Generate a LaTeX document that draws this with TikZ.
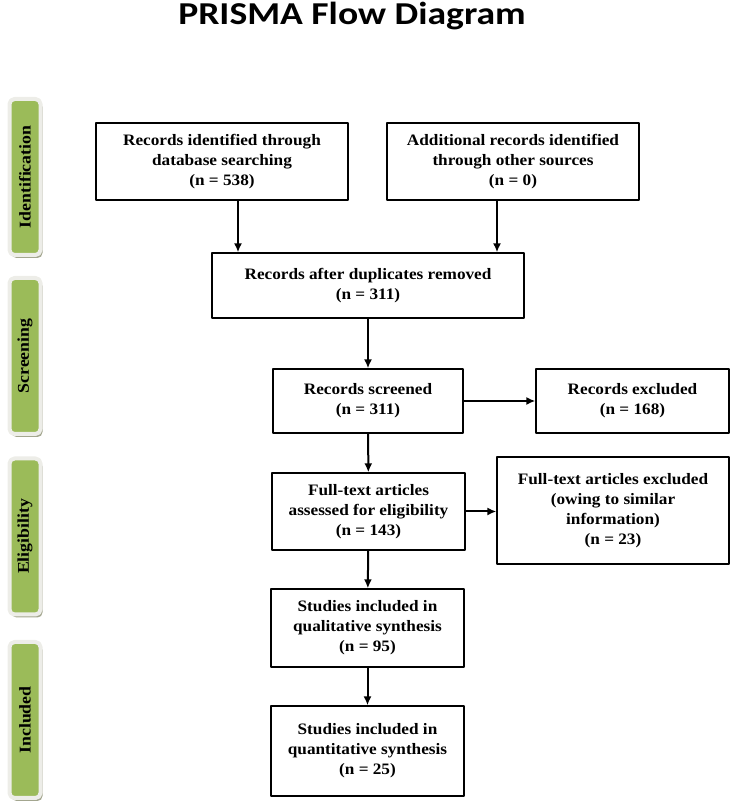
\documentclass[tikz,border=0pt]{standalone}
\usepackage{fontspec}
\setmainfont{Liberation Serif}[FakeStretch=1.08]
\newfontfamily\titlefont{Carlito}[FakeStretch=1.18]
\usetikzlibrary{shadows,arrows.meta}
\definecolor{stagegreen}{HTML}{9BBB59}
\definecolor{stageedge}{HTML}{EDEDE8}
\definecolor{stageshadow}{HTML}{A3A68F}
\begin{document}
\begin{tikzpicture}[>={Latex[length=9bp,width=8bp]},line join=bevel,
  box/.style={draw,line width=1.3bp,align=center,inner sep=0pt,
    font=\bfseries\fontsize{16}{20}\selectfont},
  flow/.style={->,line width=2bp},
  stage/.style={rotate=90,fill=stagegreen,draw=stageedge,line width=4bp,
    rounded corners=5bp,minimum width=156bp,minimum height=31bp,inner sep=0pt,
    drop shadow={shadow xshift=2bp,shadow yshift=-3bp,fill=stageshadow,opacity=1},
    font=\bfseries\fontsize{16.5}{20}\selectfont},]
\useasboundingbox (0bp,0bp) rectangle (731bp,806bp);
%%
\node (title) at (352bp,790bp) [font=\titlefont\bfseries\fontsize{32}{36}\selectfont] {PRISMA Flow Diagram};
%
\node (stage_id) at (25bp,629bp) [stage] {Identification};
  \node (stage_scr) at (25bp,450bp) [stage] {Screening};
  \node (stage_elig) at (25bp,269.5bp) [stage] {Eligibility};
  \node (stage_inc) at (25bp,86bp) [stage] {Included};
%
\node (node_db) at (222bp,644.5bp) [box,minimum width=252bp,minimum height=77bp] {Records identified through\\database searching\\(n = 538)};
  \node (node_other) at (513bp,644.5bp) [box,minimum width=252bp,minimum height=77bp] {Additional records identified\\through other sources\\(n = 0)};
  \node (node_dup) at (368bp,520.5bp) [box,minimum width=312bp,minimum height=65bp] {Records after duplicates removed\\(n = 311)};
  \node (node_scr) at (368bp,405bp) [box,minimum width=190bp,minimum height=64bp] {Records screened\\(n = 311)};
  \node (node_exc) at (632.5bp,405bp) [box,minimum width=193bp,minimum height=64bp] {Records excluded\\(n = 168)};
  \node (node_ft) at (368.5bp,294.5bp) [box,minimum width=193bp,minimum height=77bp] {Full-text articles\\assessed for eligibility\\(n = 143)};
  \node (node_ftexc) at (613bp,295.5bp) [box,minimum width=232bp,minimum height=107bp] {Full-text articles excluded\\(owing to similar\\information)\\(n = 23)};
  \node (node_qual) at (367.5bp,178bp) [box,minimum width=193bp,minimum height=78bp] {Studies included in\\qualitative synthesis\\(n = 95)};
  \node (node_quant) at (367.5bp,55bp) [box,minimum width=193bp,minimum height=90bp] {Studies included in\\quantitative synthesis\\(n = 25)};
%
\draw [flow] ([xshift=16bp]node_db.south) -- ([xshift=16bp]node_db.south |- node_dup.north);
  \draw [flow] ([xshift=-16bp]node_other.south) -- ([xshift=-16bp]node_other.south |- node_dup.north);
  \draw [flow] (node_dup) -- (node_scr);
  \draw [flow] (node_scr) -- (node_exc);
  \draw [flow] (node_scr) -- (node_ft);
  \draw [flow] (node_ft.east) -- (node_ft.east -| node_ftexc.west);
  \draw [flow] (node_ft) -- (node_qual);
  \draw [flow] (node_qual) -- (node_quant);
%
\end{tikzpicture}
\end{document}
